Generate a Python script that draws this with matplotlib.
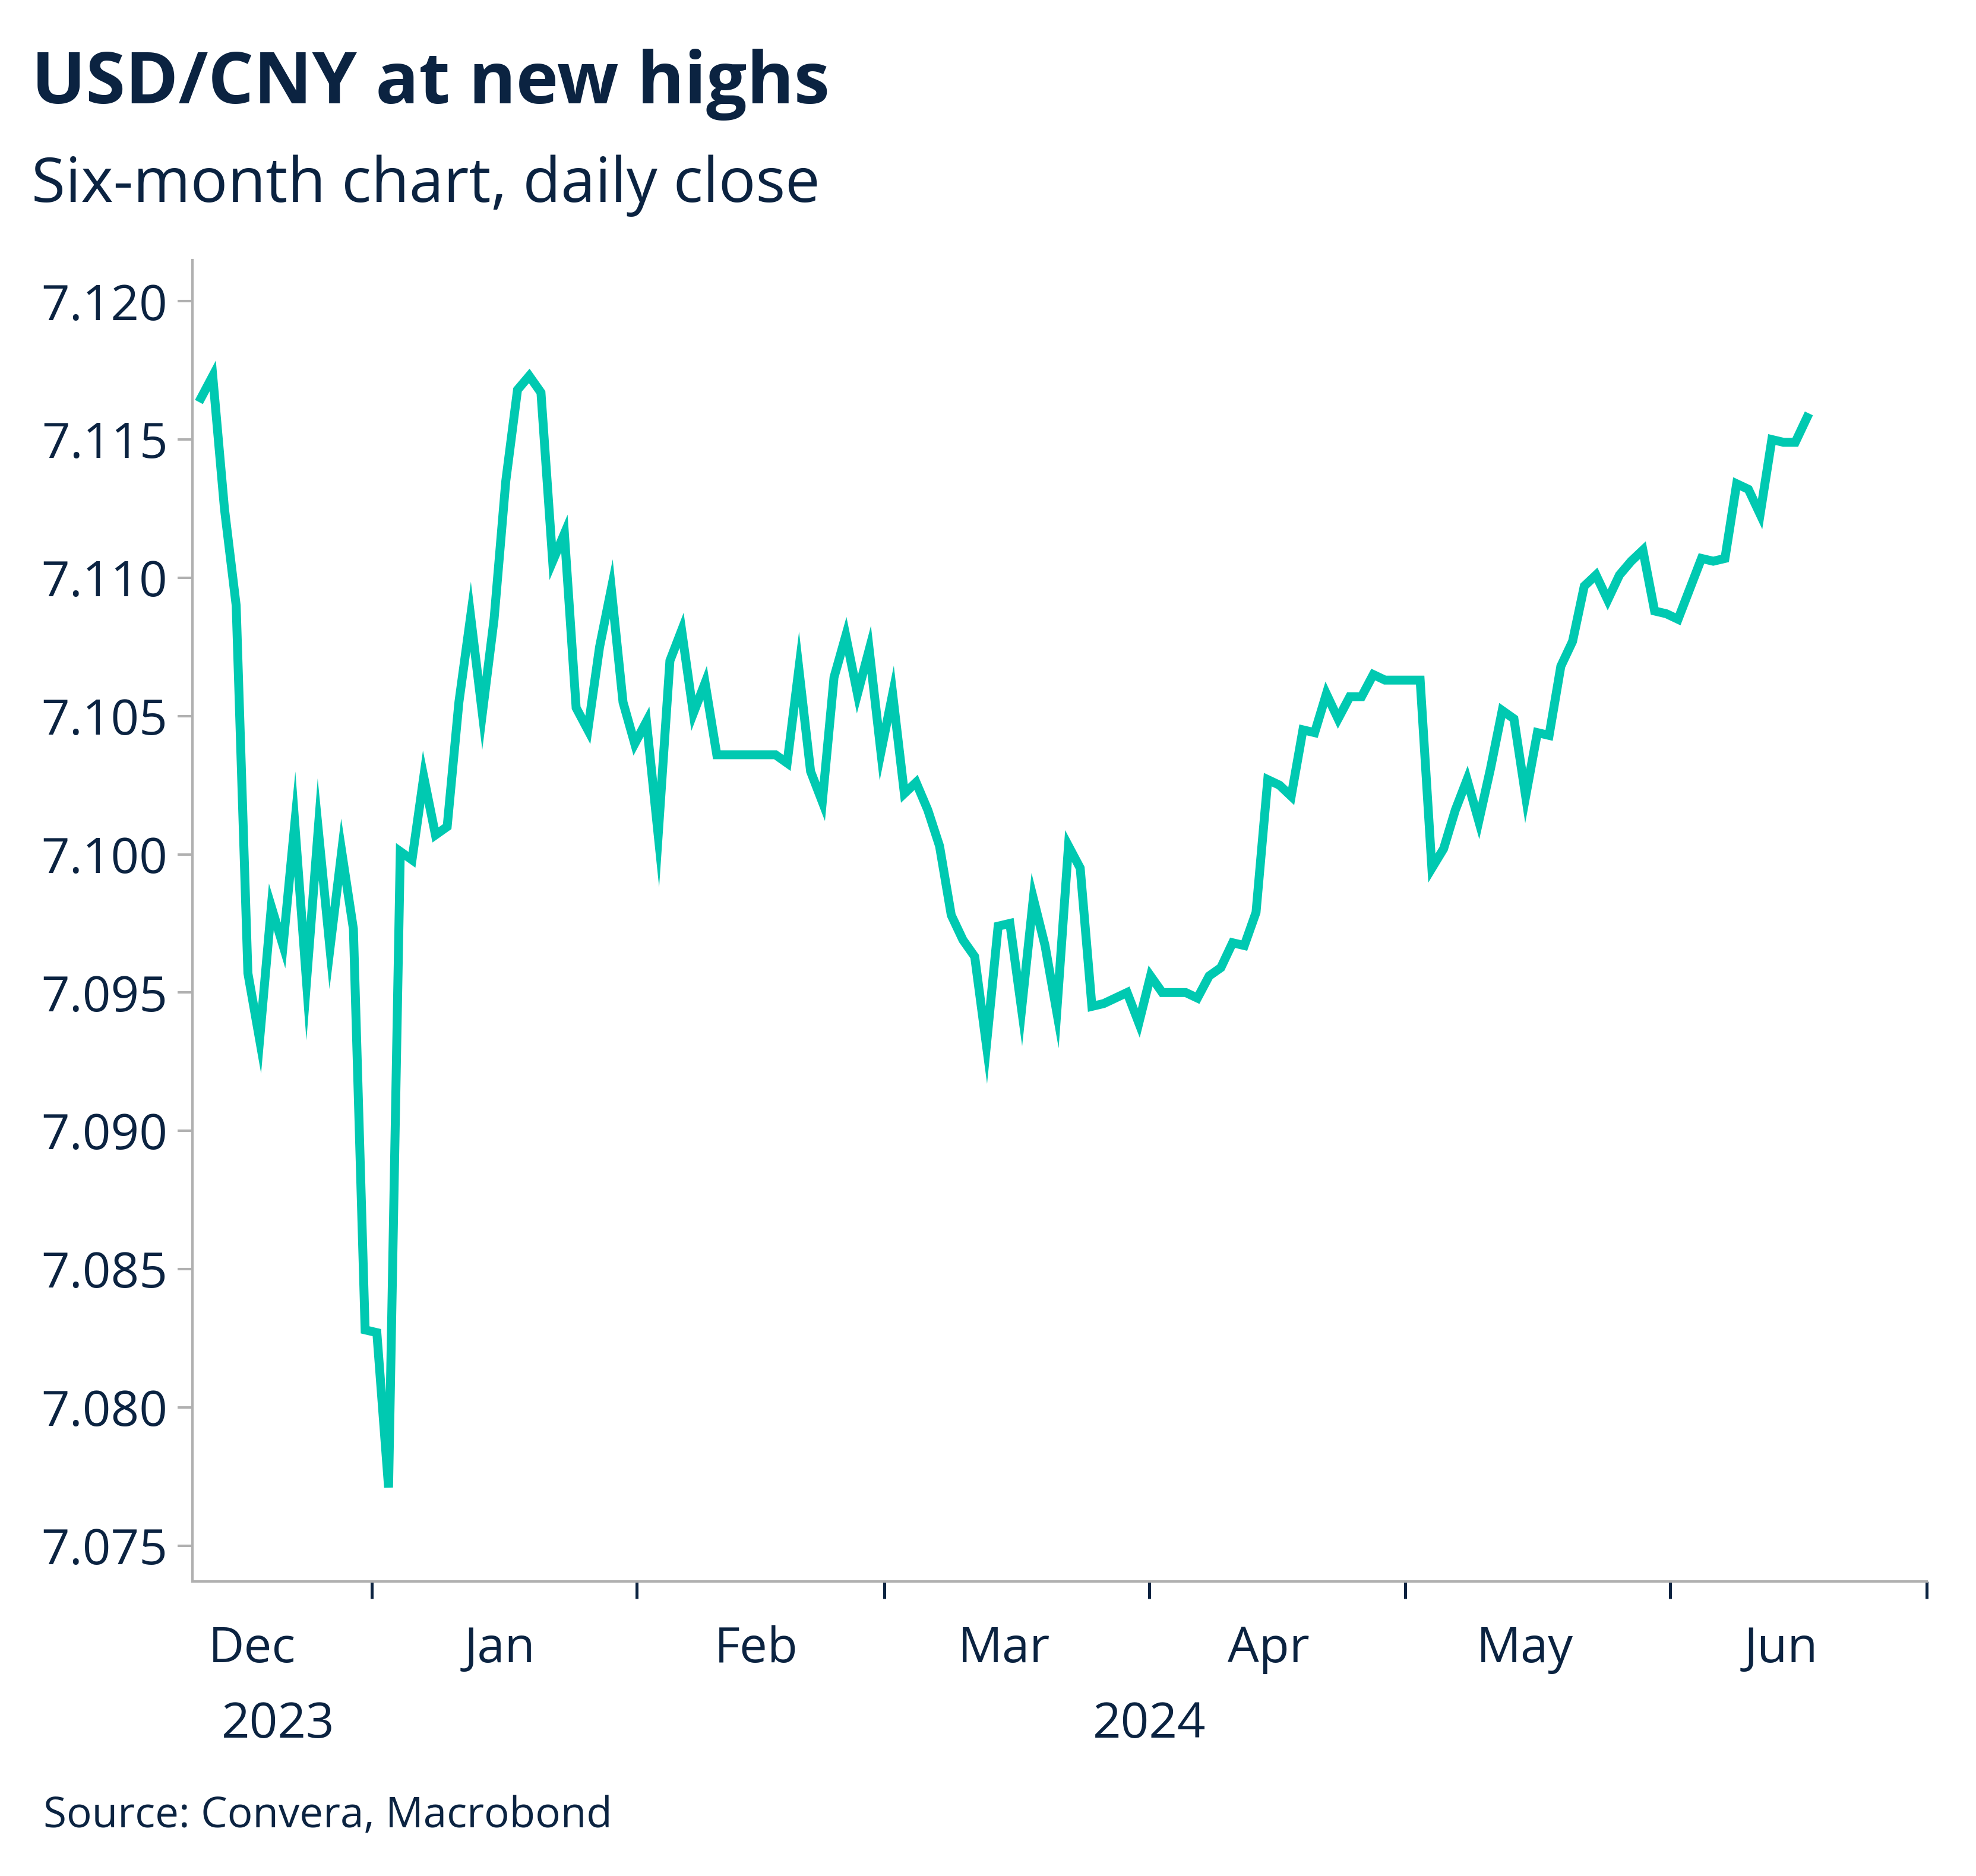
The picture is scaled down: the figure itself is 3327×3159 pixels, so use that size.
import matplotlib
matplotlib.use('Agg')
import matplotlib.pyplot as plt
import pandas as pd

plt.rcParams['font.family'] = ['Open Sans', 'DejaVu Sans']

navy = '#0b2341'
teal = '#00c9b1'

# daily close, 12 Dec 2023 to 17 Jun 2024 (evenly spaced trading days)
values = [7.1165, 7.1173, 7.1125, 7.1090, 7.0957, 7.0933, 7.0981, 7.0967, 7.1011, 7.0954,
          7.1009, 7.0966, 7.1001, 7.0973, 7.0828, 7.0827, 7.0771, 7.1001, 7.0998, 7.1028,
          7.1007, 7.1010, 7.1055, 7.1086, 7.1051, 7.1085, 7.1135, 7.1168, 7.1173, 7.1167,
          7.1106, 7.1116, 7.1053, 7.1045, 7.1075, 7.1096, 7.1055, 7.1040, 7.1048, 7.1007,
          7.1070, 7.1081, 7.1051, 7.1062, 7.1036, 7.1036, 7.1036, 7.1036, 7.1036, 7.1036,
          7.1033, 7.1067, 7.1030, 7.1019, 7.1064, 7.1079, 7.1058, 7.1074, 7.1037, 7.1058,
          7.1022, 7.1026, 7.1016, 7.1003, 7.0978, 7.0969, 7.0963, 7.0931, 7.0974, 7.0975,
          7.0944, 7.0984, 7.0967, 7.0943, 7.1003, 7.0995, 7.0945, 7.0946, 7.0948, 7.0950,
          7.0939, 7.0956, 7.0950, 7.0950, 7.0950, 7.0948, 7.0956, 7.0959, 7.0968, 7.0967,
          7.0979, 7.1027, 7.1025, 7.1021, 7.1045, 7.1044, 7.1058, 7.1049, 7.1057, 7.1057,
          7.1065, 7.1063, 7.1063, 7.1063, 7.1063, 7.0995, 7.1002, 7.1016, 7.1027, 7.1012,
          7.1031, 7.1052, 7.1049, 7.1021, 7.1044, 7.1043, 7.1068, 7.1077, 7.1097, 7.1101,
          7.1092, 7.1101, 7.1106, 7.1110, 7.1088, 7.1087, 7.1085, 7.1096, 7.1107, 7.1106,
          7.1107, 7.1134, 7.1132, 7.1123, 7.1150, 7.1149, 7.1149, 7.1158]
dates = pd.date_range('2023-12-12', '2024-06-17', periods=len(values))

month_labels = ['Dec', 'Jan', 'Feb', 'Mar', 'Apr', 'May', 'Jun']
month_label_dates = ['2023-12-18', '2024-01-16', '2024-02-15', '2024-03-15',
                     '2024-04-15', '2024-05-15', '2024-06-14']
month_ticks = ['2024-01-01', '2024-02-01', '2024-03-01', '2024-04-01',
               '2024-05-01', '2024-06-01', '2024-07-01']
yticks = [7.075, 7.080, 7.085, 7.090, 7.095, 7.100, 7.105, 7.110, 7.115, 7.120]

fig = plt.figure(figsize=(3327 / 300, 3159 / 300), dpi=300)
ax = fig.add_axes([0.0974, 0.157, 0.8776, 0.7045])
ax.plot(dates, values, color=teal, lw=3.6, solid_joinstyle='miter')

ax.set_xlim(pd.Timestamp('2023-12-11'), pd.Timestamp('2024-07-01'))
ax.set_ylim(7.0737, 7.1215)
ax.set_yticks(yticks)
ax.set_yticklabels([f'{v:.3f}' for v in yticks])
ax.set_xticks(pd.to_datetime(month_ticks))
ax.set_xticklabels([])

for s in ['top', 'right']:
    ax.spines[s].set_visible(False)
for s in ['left', 'bottom']:
    ax.spines[s].set_color('#b0b0b0')
    ax.spines[s].set_linewidth(1.0)
ax.tick_params(axis='y', colors='#b0b0b0', labelcolor=navy, labelsize=20, length=6, width=1, pad=4)
ax.tick_params(axis='x', colors=navy, length=7, width=1.2)

trans = ax.get_xaxis_transform()
for lab, d in zip(month_labels, month_label_dates):
    ax.text(pd.Timestamp(d), -0.033, lab, transform=trans, ha='center', va='top',
            fontsize=20, color=navy)
ax.text(pd.Timestamp('2023-12-21'), -0.09, '2023', transform=trans, ha='center', va='top',
        fontsize=20, color=navy)
ax.text(pd.Timestamp('2024-04-01'), -0.09, '2024', transform=trans, ha='center', va='top',
        fontsize=20, color=navy)

fig.text(0.016, 0.955, 'USD/CNY at new highs', fontsize=29, fontweight='bold',
         color=navy, va='center')
fig.text(0.016, 0.901, 'Six-month chart, daily close', fontsize=25, color=navy, va='center')
fig.text(0.022, 0.032, 'Source: Convera, Macrobond', fontsize=17, color=navy, va='center')

fig.savefig('out.png', dpi=300, facecolor='white')
